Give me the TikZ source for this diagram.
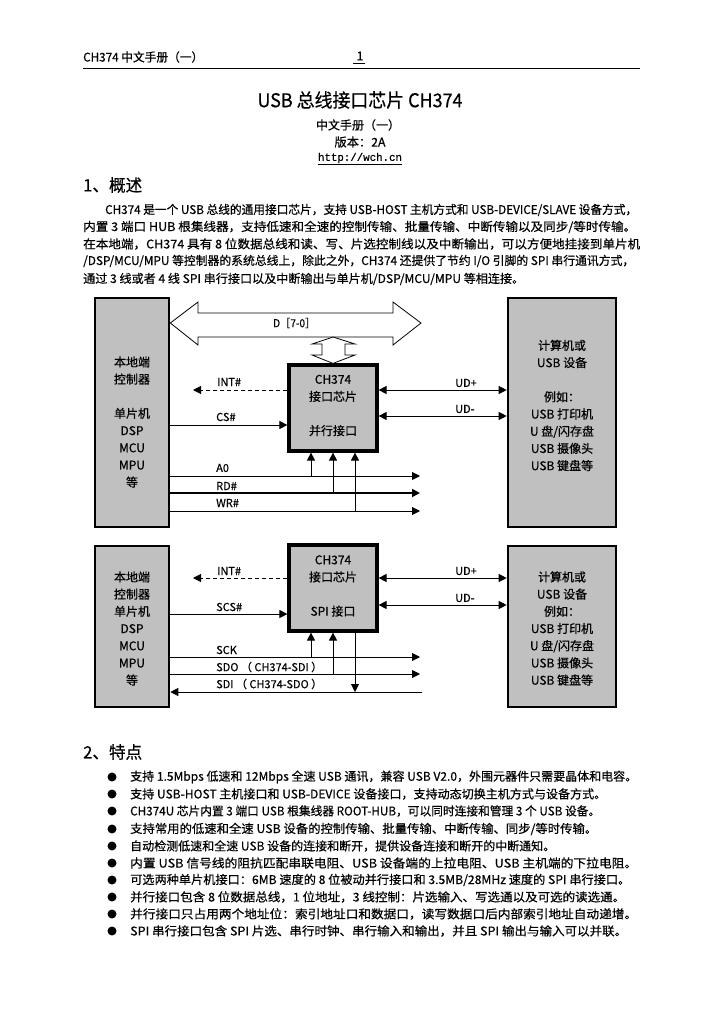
\documentclass[tikz,border=0pt]{standalone}
\usepackage{fontspec}
\usepackage{graphicx}
\setmainfont{Noto Sans CJK SC}[FakeBold=0.5]
\newfontfamily\monof{Liberation Mono}[FakeBold=0.5]
\usetikzlibrary{arrows.meta}
\definecolor{boxgray}{RGB}{192,192,192}
\newcommand\fitw[2]{\resizebox{#1pt}{\height}{#2}}
\begin{document}
\begin{tikzpicture}[x=1pt,y=-1pt,
  txt/.style={inner sep=0pt, font=\fontsize{12}{14}\selectfont},
  para/.style={txt, anchor=west},
  lbl/.style={inner sep=0pt, anchor=west, font=\fontsize{11}{12}\selectfont},
  boxtxt/.style={inner sep=0pt, align=center, font=\fontsize{12}{17.2}\selectfont},
  gbox/.style={draw, line width=2.6pt, fill=boxgray, inner sep=0pt},
  sig/.style={line width=0.9pt},
  tri/.tip={Triangle[length=8pt,width=8pt]},
  tip/.style={sig, -tri},
  dtip/.style={sig, tri-tri},
  intl/.style={sig, -tri, dash pattern=on 4.5pt off 2.5pt},
  bullet/.style={circle, fill=black, inner sep=0pt, minimum size=9pt}
]
\useasboundingbox[fill=white] (0,0) rectangle (720,1012);

% header
\node[para] (hdr) at (83,57) {\fitw{120}{CH374 中文手册（一）}};
\node[txt] (pg) at (360,56) {1};
\draw[line width=0.8pt] (pg.south west) ++(-3,3) coordinate (pgu) -- ++(12,0);
\draw[line width=1pt] (83,68) -- (640,68);

% title block
\node[txt, font=\fontsize{19}{21}\selectfont] (title) at (360,100) {\fitw{205}{USB 总线接口芯片 CH374}};
\node[txt] (sub) at (358,125) {\fitw{84}{中文手册（一）}};
\node[txt] (ver) at (360,142) {\fitw{51}{版本：2A}};
\node[txt, font=\monof\fontsize{11}{13}\selectfont] (url) at (360,158) {\fitw{84}{http://wch.cn}};
\draw[line width=0.7pt] ([yshift=-1.5pt]url.south west) -- ([yshift=-1.5pt]url.south east);

% section 1
\node[para, font=\fontsize{17}{19}\selectfont] (s1) at (83,185) {\fitw{59}{1、概述}};
\node[para] (p1) at (105,210) {\fitw{532}{CH374 是一个 USB 总线的通用接口芯片，支持 USB-HOST 主机方式和 USB-DEVICE/SLAVE 设备方式，}};
\node[para] (p2) at (83,227) {\fitw{553}{内置 3 端口 HUB 根集线器，支持低速和全速的控制传输、批量传输、中断传输以及同步/等时传输。}};
\node[para] (p3) at (83,244) {\fitw{557}{在本地端，CH374 具有 8 位数据总线和读、写、片选控制线以及中断输出，可以方便地挂接到单片机}};
\node[para] (p4) at (83,261) {\fitw{551}{/DSP/MCU/MPU 等控制器的系统总线上，除此之外，CH374 还提供了节约 I/O 引脚的 SPI 串行通讯方式，}};
\node[para] (p5) at (83,279) {\fitw{441}{通过 3 线或者 4 线 SPI 串行接口以及中断输出与单片机/DSP/MCU/MPU 等相连接。}};

% ===== parallel diagram =====
\node[gbox, minimum width=74pt, minimum height=229pt] (ctl1) at (132,412.5) {};
\node[gbox, minimum width=108pt, minimum height=229pt] (dev1) at (562,412.5) {};
\node[gbox, line width=3.2pt, minimum width=88pt, minimum height=86pt] (chip1) at (333,408) {};

\node[boxtxt] (ctl1t) at (132,422) {本地端\\控制器\\[17pt]单片机\\DSP\\MCU\\MPU\\等};
\node[boxtxt] (dev1t) at (562,405.5) {计算机或\\USB 设备\\[17pt]例如：\\USB 打印机\\U 盘/闪存盘\\USB 摄像头\\USB 键盘等};
\node[boxtxt] (chip1t) at (333,405.5) {CH374\\接口芯片\\[17pt]并行接口};

% data bus
\draw[line width=0.8pt, fill=white] (ctl1.east |- 0,323) coordinate (busL) -- (198,302) -- (198,313) -- (393,313) -- (393,302) -- (421,323) coordinate (busR) -- (393,345) -- (393,337) -- (198,337) -- (198,345) -- cycle;
\node[lbl] (dlbl) at (273,323) {\fitw{42}{D［7-0］}};
\draw[line width=0.8pt, fill=white] (333,337) -- (355,344) -- (345,344) -- (345,355) -- (355,355) -- (chip1.north) -- (312,355) -- (322,355) -- (322,344) -- (312,344) -- cycle;

\coordinate (int1e) at (193,390);
\draw[intl] (chip1.west |- int1e) -- (int1e);
\node[lbl] (int1l) at (217,382) {INT\#};
\draw[tip] (ctl1.east |- 0,425) -- (chip1.west |- 0,425);
\node[lbl] (cs1l) at (216,417) {CS\#};

\coordinate (a0e) at (420,476);
\coordinate (rde) at (420,493);
\coordinate (wre) at (420,511);
\draw[tip] (ctl1.east |- a0e) -- (a0e);
\draw[tip, line width=1.8pt] (ctl1.east |- rde) -- (rde);
\draw[tip] (ctl1.east |- wre) -- (wre);
\draw[tip] (311,476) coordinate (a0t) -- (chip1.south -| a0t);
\draw[tip] (333,493) coordinate (rdt) -- (chip1.south -| rdt);
\draw[tip] (355,511) coordinate (wrt) -- (chip1.south -| wrt);
\node[lbl] (a0l) at (216,468) {A0};
\node[lbl] (rdl) at (216,486) {RD\#};
\node[lbl] (wrl) at (216,503) {WR\#};

\draw[dtip] (chip1.east |- 0,390) -- (dev1.west |- 0,390);
\draw[dtip] (chip1.east |- 0,416) -- (dev1.west |- 0,416);
\node[lbl] (udp1) at (455,383) {UD+};
\node[lbl] (udm1) at (455,409) {UD-};

% ===== SPI diagram =====
\node[gbox, minimum width=74pt, minimum height=161pt] (ctl2) at (132,626.5) {};
\node[gbox, minimum width=108pt, minimum height=161pt] (dev2) at (562,626.5) {};
\node[gbox, line width=3.2pt, minimum width=88pt, minimum height=86pt] (chip2) at (333,588) {};

\node[boxtxt] (ctl2t) at (132,628.5) {本地端\\控制器\\单片机\\DSP\\MCU\\MPU\\等};
\node[boxtxt] (dev2t) at (562,628.5) {计算机或\\USB 设备\\例如：\\USB 打印机\\U 盘/闪存盘\\USB 摄像头\\USB 键盘等};
\node[boxtxt] (chip2t) at (333,586) {CH374\\接口芯片\\[17pt]SPI 接口};

\coordinate (int2e) at (193,578);
\draw[intl] (chip2.west |- int2e) -- (int2e);
\node[lbl] (int2l) at (217,571) {INT\#};
\draw[tip] (ctl2.east |- 0,614) -- (chip2.west |- 0,614);
\node[lbl] (scsl) at (216,607) {SCS\#};

\coordinate (scke) at (420,657);
\coordinate (sdoe) at (420,674);
\coordinate (sdis) at (422,692);
\draw[tip] (ctl2.east |- scke) -- (scke);
\draw[tip] (ctl2.east |- sdoe) -- (sdoe);
\draw[tip] (sdis) -- (ctl2.east |- sdis);
\draw[tip] (311,657) coordinate (sckt) -- (chip2.south -| sckt);
\draw[tip] (333,674) coordinate (sdot) -- (chip2.south -| sdot);
\draw[tip] (chip2.south -| 355,0) -- (355,692) coordinate (sdit);
\node[lbl] (sckl) at (216,650) {SCK};
\node[lbl] (sdol) at (216,667) {\fitw{106}{SDO （ CH374-SDI ）}};
\node[lbl] (sdil) at (216,684) {\fitw{106}{SDI （ CH374-SDO ）}};

\draw[dtip] (chip2.east |- 0,578) -- (dev2.west |- 0,578);
\draw[dtip] (chip2.east |- 0,605) -- (dev2.west |- 0,605);
\node[lbl] (udp2) at (455,571) {UD+};
\node[lbl] (udm2) at (455,598) {UD-};

% section 2
\node[para, font=\fontsize{17}{19}\selectfont] (s2) at (83,752) {\fitw{59}{2、特点}};
\node[bullet] (b1) at (112,777) {};
\node[para] (f1) at (130,777) {\fitw{507}{支持 1.5Mbps 低速和 12Mbps 全速 USB 通讯，兼容 USB V2.0，外围元器件只需要晶体和电容。}};
\node[bullet] (b2) at (112,794) {};
\node[para] (f2) at (130,794) {\fitw{476}{支持 USB-HOST 主机接口和 USB-DEVICE 设备接口，支持动态切换主机方式与设备方式。}};
\node[bullet] (b3) at (112,811) {};
\node[para] (f3) at (130,811) {\fitw{470}{CH374U 芯片内置 3 端口 USB 根集线器 ROOT-HUB，可以同时连接和管理 3 个 USB 设备。}};
\node[bullet] (b4) at (112,829) {};
\node[para] (f4) at (130,829) {\fitw{467}{支持常用的低速和全速 USB 设备的控制传输、批量传输、中断传输、同步/等时传输。}};
\node[bullet] (b5) at (112,846) {};
\node[para] (f5) at (130,846) {\fitw{425}{自动检测低速和全速 USB 设备的连接和断开，提供设备连接和断开的中断通知。}};
\node[bullet] (b6) at (112,863) {};
\node[para] (f6) at (130,863) {\fitw{507}{内置 USB 信号线的阻抗匹配串联电阻、USB 设备端的上拉电阻、USB 主机端的下拉电阻。}};
\node[bullet] (b7) at (112,880) {};
\node[para] (f7) at (130,880) {\fitw{500}{可选两种单片机接口：6MB 速度的 8 位被动并行接口和 3.5MB/28MHz 速度的 SPI 串行接口。}};
\node[bullet] (b8) at (112,897) {};
\node[para] (f8) at (130,897) {\fitw{495}{并行接口包含 8 位数据总线，1 位地址，3 线控制：片选输入、写选通以及可选的读选通。}};
\node[bullet] (b9) at (112,914) {};
\node[para] (f9) at (130,914) {\fitw{507}{并行接口只占用两个地址位：索引地址口和数据口，读写数据口后内部索引地址自动递增。}};
\node[bullet] (b10) at (112,931) {};
\node[para] (f10) at (130,931) {\fitw{497}{SPI 串行接口包含 SPI 片选、串行时钟、串行输入和输出，并且 SPI 输出与输入可以并联。}};
\end{tikzpicture}
\end{document}
